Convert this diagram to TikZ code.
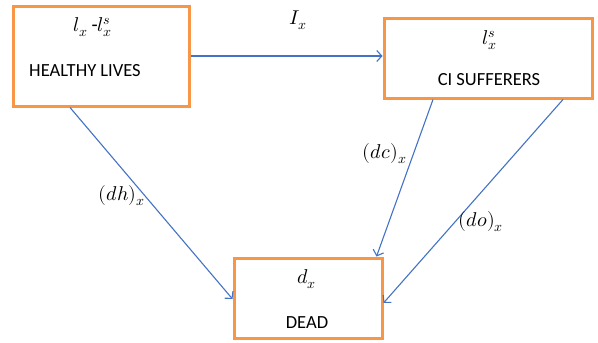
\documentclass[tikz,border=0pt]{standalone}
\usepackage{fontspec}
\usepackage{unicode-math}
\setmainfont{Carlito}
\setmathfont{Latin Modern Math}
\usetikzlibrary{arrows.meta, positioning, calc}
\definecolor{boxorange}{RGB}{247, 150, 70}
\definecolor{flowblue}{RGB}{68, 114, 196}

\begin{document}
\begin{tikzpicture}[
        x=1pt, y=-1pt,
        box/.style={rectangle, draw=boxorange, line width=3pt, fill=white, inner sep=0pt},
        lbl/.style={font=\fontsize{18.5}{20}\selectfont, inner sep=0pt},
        rate/.style={font=\fontsize{20}{22}\selectfont, inner sep=0pt},
        arrow/.style={line width=1.1pt, flowblue, -{Straight Barb[length=5pt, width=11pt, line width=1.1pt]}}
    ]
        \useasboundingbox (0,0) rectangle (598,343);
        % boxes
        \node[box, minimum width=176pt, minimum height=100pt] (healthy) at (101,56) {};
        \node[box, minimum width=208pt, minimum height=80pt] (ci) at (488,58) {};
        \node[box, minimum width=148pt, minimum height=80pt] (dead) at (308,298) {};
        
        % box texts
        \node[rate] (hmath) at (93,27) {$l_x\,$-$l_x^s$};
        \node[lbl] (htext) at (85,71) {HEALTHY LIVES};
        \node[rate] (cmath) at (490,40) {$l_x^s$};
        \node[lbl] (ctext) at (489,80) {CI SUFFERERS};
        \node[rate] (dmath) at (307,279) {$d_x$};
        \node[lbl] (dtext) at (307,323) {DEAD};
        
        % flows
        \draw[arrow] (healthy.east) -- (healthy.east -| ci.west);
        \draw[arrow] ([xshift=-31pt]healthy.south) -- ([yshift=-1pt]dead.west);
        \draw[arrow] ([xshift=-55pt]ci.south) -- ([xshift=-7pt]dead.north east);
        \draw[arrow] ([xshift=75pt]ci.south) -- ([yshift=-5pt]dead.east);
        
        % rates
        \node[rate] (ix) at (298,20) {$I_x$};
        \node[rate] (dh) at (122,196) {$(dh)_x$};
        \node[rate] (dc) at (385,154) {$(dc)_x$};
        \node[rate] (do) at (481,222) {$(do)_x$};
    \end{tikzpicture}
\end{document}
